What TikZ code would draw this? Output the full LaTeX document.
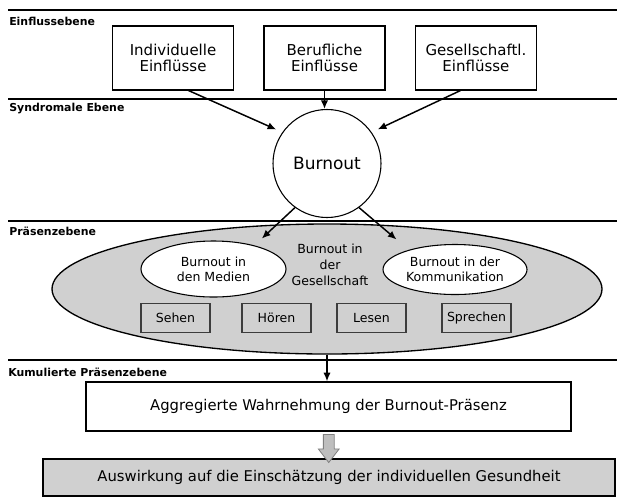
\documentclass[tikz,border=0pt]{standalone}
\usepackage{fontspec}
\setmainfont{DejaVu Sans}
\usetikzlibrary{positioning,shapes.geometric,shapes.arrows,arrows.meta,calc}
\definecolor{paneGray}{RGB}{208,208,208}
\definecolor{frameGray}{RGB}{60,60,60}
\definecolor{pushGray}{RGB}{190,190,190}
\tikzset{
    node distance=113.6pt, % spacing of the three influence boxes
    }

\begin{document}
\begin{tikzpicture}[x=0.75pt,y=-0.75pt,
levelname/.style={anchor=west, inner sep=0pt, font=\bfseries\fontsize{8.2}{9}\selectfont},
levelline/.style={line width=1.5pt},
sourcebox/.style={rectangle, draw=black, line width=0.8pt, minimum width=90.75pt, minimum height=48pt, align=center, font=\fontsize{11.25}{12.5}\selectfont},
corenode/.style={circle, draw=black, line width=0.8pt, fill=white, minimum size=81pt, font=\fontsize{12.75}{14}\selectfont},
societynode/.style={ellipse, draw=black, line width=1pt, fill=paneGray, minimum width=412.5pt, minimum height=97.5pt},
channelnode/.style={ellipse, draw=black, line width=0.8pt, fill=white, inner sep=0pt, minimum width=108.75pt, align=center, font=\fontsize{9.4}{11.25}\selectfont},
sensebox/.style={rectangle, draw=frameGray, line width=0.8pt, fill=paneGray, minimum width=51.75pt, minimum height=21.75pt, inner sep=0pt, font=\fontsize{9.4}{11}\selectfont},
widebox/.style={rectangle, draw=black, line width=1pt, inner sep=0pt, font=\fontsize{11.1}{13}\selectfont},
flow/.style={-{Latex[length=6.5pt,width=5.5pt]}, line width=1.1pt},
downflow/.style={single arrow, draw=gray, fill=pushGray, line width=0.6pt, shape border rotate=270, inner sep=3.75pt, single arrow head extend=3.75pt, single arrow tip angle=75, minimum height=21pt},
]
\path[use as bounding box, fill=white] (0,0) rectangle (617,497);

% level separators
\foreach \ly in {10,99,221,360}
  \draw[levelline] (8,\ly) -- (617,\ly);

\node[levelname] (lvlinfl) at (9,21) {Einflussebene};
\node[levelname] (lvlsynd) at (9,109) {Syndromale Ebene};
\node[levelname] (lvlpres) at (9,231) {Präsenzebene};
\node[levelname] (lvlcum) at (8,372) {Kumulierte Präsenzebene};

\node[sourcebox] (beruf) at (324.5,58) {Berufliche\\Einflüsse};
\node[sourcebox] (indiv) [left of=beruf] {Individuelle\\Einflüsse};
\node[sourcebox] (gesell) [right of=beruf] {Gesellschaftl.\\Einflüsse};

\node[corenode] (burnout) at (327,163.5) {Burnout};

\node[societynode] (society) at (327,289) {};
\node[align=center, inner sep=0pt, font=\fontsize{9.4}{12}\selectfont] (societytxt) at (330,265) {Burnout in\\der\\Gesellschaft};
\node[channelnode, minimum height=42pt] (media) at (213.5,269) {Burnout in\\den Medien};
\node[channelnode, minimum width=108pt, minimum height=37.5pt] (talk) at (455,269.5) {Burnout in der\\Kommunikation};

\node[sensebox] (see) at (175.5,318) {Sehen};
\node[sensebox] (hear) at (276.5,318) {Hören};
\node[sensebox] (read) at (371.5,318) {Lesen};
\node[sensebox] (speak) at (476.5,318) {Sprechen};

\node[widebox, minimum width=363.75pt, minimum height=36.75pt] (agg) at (328.5,406.5) {Aggregierte Wahrnehmung der Burnout-Präsenz};
\node[widebox, fill=paneGray, minimum width=429pt, minimum height=27.75pt] (effect) at (329,477.5) {Auswirkung auf die Einschätzung der individuellen Gesundheit};

\draw[flow, shorten >=5pt] ($(indiv.south)+(15.5,0)$) -- (burnout.145);
\draw[flow] (beruf.south) -- (beruf.south |- burnout.north);
\draw[flow, shorten >=5pt] ($(gesell.south)+(-15.5,0)$) -- (burnout.35);

\draw[flow, shorten >=7.5pt] (burnout.234) -- (media.30);
\draw[flow, shorten >=12pt] (burnout.306) -- (talk.157);

\draw[flow] (society.south) -- (society.south |- agg.north);
\node[downflow] (push) at ($(agg.south)!0.5!(effect.north)$) {};
\end{tikzpicture}
\end{document}
